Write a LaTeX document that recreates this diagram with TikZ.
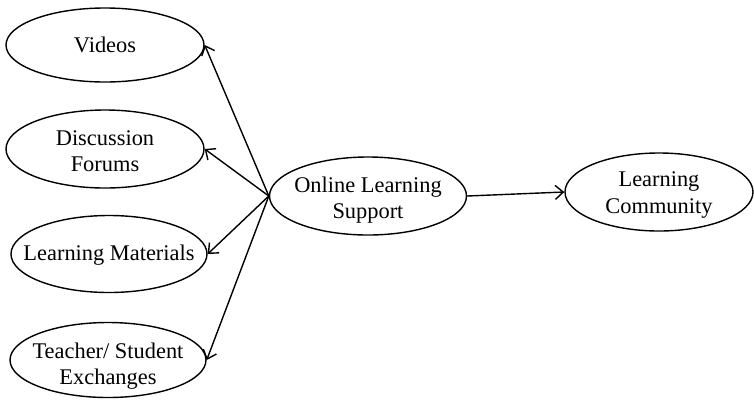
\documentclass[tikz,border=0pt]{standalone}
\usepackage{fontspec}
\setmainfont{Liberation Serif}
\usetikzlibrary{shapes.geometric,arrows.meta}
\begin{document}
\begin{tikzpicture}[x=1pt,y=-1pt,
  ell/.style={draw, ellipse, line width=1.4pt, inner sep=0pt},
  lbl/.style={font=\fontsize{22.4}{26.5}\selectfont, align=center, inner sep=0pt},
  arr/.style={-{Straight Barb[length=8pt,width=14pt,line width=1.4pt]}, line width=1.4pt}]
\useasboundingbox (0,0) rectangle (754,400);
\node[ell, minimum width=198pt, minimum height=74pt] (vid) at (105,45) {};
\node[lbl] (vidt) at (vid) {Videos};
\node[ell, minimum width=198pt, minimum height=78pt] (dis) at (105,149) {};
\node[lbl] (dist) at ([yshift=-2pt]dis.center) {Discussion\\Forums};
\node[ell, minimum width=196pt, minimum height=77pt] (mat) at (109,254) {};
\node[lbl] (matt) at ([yshift=-1pt]mat.center) {Learning Materials};
\node[ell, minimum width=196pt, minimum height=75pt] (tea) at (108,360) {};
\node[lbl] (teat) at ([yshift=-6pt]tea.center) {Teacher/ Student\\Exchanges};
\node[ell, minimum width=197pt, minimum height=78pt] (ols) at (368,196) {};
\node[lbl] (olst) at ([yshift=-4pt]ols.center) {Online Learning\\Support};
\node[ell, minimum width=188pt, minimum height=78pt] (com) at (659,192) {};
\node[lbl] (comt) at ([yshift=-3pt]com.center) {Learning\\Community};
\draw[arr] (ols.west) -- (vid.east);
\draw[arr] (ols.west) -- (dis.east);
\draw[arr] (ols.west) -- (mat.east);
\draw[arr] (ols.west) -- (tea.east);
\draw[arr] (ols.east) -- (com.west);
\end{tikzpicture}
\end{document}
